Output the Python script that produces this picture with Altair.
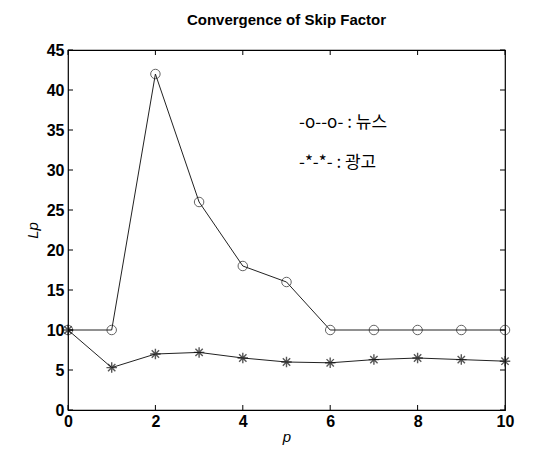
import altair as alt
import pandas as pd

p = [0, 1, 2, 3, 4, 5, 6, 7, 8, 9, 10]
news = [10, 10, 42, 26, 18, 16, 10, 10, 10, 10, 10]
ads = [10, 5.3, 7.0, 7.2, 6.5, 6.0, 5.9, 6.3, 6.5, 6.3, 6.1]
x_ticks = [0, 2, 4, 6, 8, 10]
y_ticks = [0, 5, 10, 15, 20, 25, 30, 35, 40, 45]

df_news = pd.DataFrame({"p": p, "Lp": news})
df_ads = pd.DataFrame({"p": p, "Lp": ads})

W, H = 437, 360
xs = alt.Scale(domain=[0, 10], nice=False, zero=False)
ys = alt.Scale(domain=[0, 45], nice=False)

font = "Liberation Sans"
star = "M-1,0L1,0M0,-1L0,1M-0.7,-0.7L0.7,0.7M-0.7,0.7L0.7,-0.7"

common = dict(titleFontStyle="italic", titleFontWeight="normal", titleFontSize=15,
              labelFontSize=16, labelFontWeight="bold", labelColor="black", titleColor="black",
              ticks=False, domain=False, grid=False, labelFont=font, titleFont=font,
              labelOverlap=False, labelFlush=False, labelBound=False)
ax_x = alt.Axis(values=x_ticks, title="p", titlePadding=0, labelPadding=3, **common)
ax_y = alt.Axis(values=y_ticks, title="Lp", titlePadding=6, labelPadding=4, **common)
bx = alt.X("p:Q", scale=xs, axis=ax_x)
by = alt.Y("Lp:Q", scale=ys, axis=ax_y)

news_line = alt.Chart(df_news).mark_line(color="#222", strokeWidth=1).encode(x=bx, y=by)
news_pts = alt.Chart(df_news).mark_point(shape="circle", filled=False, color="#222", size=90,
                                         strokeWidth=1).encode(x=bx, y=by)
ads_line = alt.Chart(df_ads).mark_line(color="#222", strokeWidth=1).encode(x=bx, y=by)
ads_pts = alt.Chart(df_ads).mark_point(shape=star, filled=False, color="#111", size=110,
                                       strokeWidth=1.4).encode(x=bx, y=by)

xt = pd.DataFrame({"p": x_ticks})
yt = pd.DataFrame({"Lp": y_ticks})
tb = alt.Chart(xt).mark_rule(color="black", strokeWidth=1).encode(x=bx, y=alt.value(H), y2=alt.value(H - 5))
tt = alt.Chart(xt).mark_rule(color="black", strokeWidth=1).encode(x=bx, y=alt.value(0), y2=alt.value(5))
tl = alt.Chart(yt).mark_rule(color="black", strokeWidth=1).encode(y=by, x=alt.value(0), x2=alt.value(5))
tr = alt.Chart(yt).mark_rule(color="black", strokeWidth=1).encode(y=by, x=alt.value(W), x2=alt.value(W - 5))

legend_df = pd.DataFrame({"t": ["-o--o- : 뉴스", "-*-*- : 광고"], "yy": [73, 113]})
legend = alt.Chart(legend_df).mark_text(align="left", baseline="middle", fontSize=17, color="black",
                                        font="Noto Sans CJK KR").encode(
    text="t:N", x=alt.value(231),
    y=alt.Y("yy:Q", scale=alt.Scale(domain=[0, H], range=[0, H]), axis=None))

chart = alt.layer(news_line, news_pts, ads_line, ads_pts, tb, tt, tl, tr)
chart = alt.layer(chart, legend).resolve_scale(y="independent").properties(
    width=W, height=H,
    title=alt.TitleParams("Convergence of Skip Factor", fontSize=15, fontWeight="bold", font=font,
                          color="black", offset=14, anchor="middle"),
    autosize=alt.AutoSizeParams(type="none"),
    padding={"left": 60, "top": 42, "right": 29, "bottom": 37},
).configure_view(stroke="black", strokeWidth=1.2)

chart.save("out.html", embed_options={"renderer": "svg", "actions": False})
